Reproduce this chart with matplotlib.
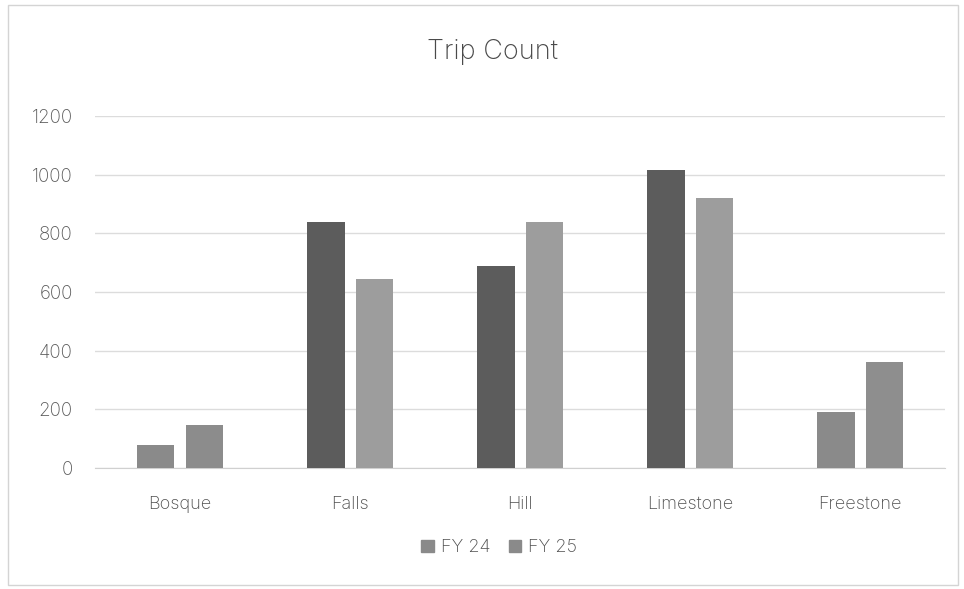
import numpy as np
import matplotlib
matplotlib.use("Agg")
import matplotlib.pyplot as plt
from matplotlib.patches import Rectangle

categories = ["Bosque", "Falls", "Hill", "Limestone", "Freestone"]
fy24 = [80, 840, 690, 1015, 190]
fy25 = [145, 645, 840, 920, 360]
series_names = ["FY 24", "FY 25"]
yticks = [0, 200, 400, 600, 800, 1000, 1200]

# the scan turned the outer groups into one flat grey
fy24_colors = ["#8a8a8a", "#5c5c5c", "#5c5c5c", "#5c5c5c", "#8a8a8a"]
fy25_colors = ["#8c8c8c", "#9d9d9d", "#9d9d9d", "#9d9d9d", "#8e8e8e"]

plt.rcParams['font.family'] = ['Inter', 'DejaVu Sans']

fig = plt.figure(figsize=(9.64, 5.89), dpi=100)
fig.patches.append(Rectangle((0.008, 0.006), 0.986, 0.986, transform=fig.transFigure,
                             fill=False, edgecolor="#d4d4d4", linewidth=1.0))

ax = fig.add_axes([0.0985, 0.2054, 0.882, 0.5976])
x = np.arange(len(categories))
w = 0.22
gap = 0.065
ax.bar(x - (w + gap) / 2, fy24, w, color=fy24_colors, label=series_names[0], zorder=3)
ax.bar(x + (w + gap) / 2, fy25, w, color=fy25_colors, label=series_names[1], zorder=3)

ax.set_xlim(-0.5, len(categories) - 0.5)
ax.set_ylim(0, 1200)
ax.set_yticks(yticks)
ax.set_yticklabels([str(v) for v in yticks], fontsize=13.5, color="#5a5a5a",
                   fontweight="light")
ax.set_xticks(x)
ax.set_xticklabels(categories, fontsize=13, color="#4f4f4f", fontweight="light")
ax.tick_params(axis="x", length=0, pad=20)
ax.tick_params(axis="y", length=0, pad=16)
ax.grid(axis="y", color="#dcdcdc", linewidth=1.0, zorder=0)
for s in ["top", "right", "left"]:
    ax.spines[s].set_visible(False)
ax.spines["bottom"].set_color("#d0d0d0")

fig.text(0.511, 0.912, "Trip Count", ha="center", va="center", fontsize=19.5,
         color="#4a4a4a", fontweight="light")

leg = fig.legend(loc="center", bbox_to_anchor=(0.518, 0.07), ncol=2, frameon=False,
                 fontsize=13, handlelength=0.7, handleheight=0.7, columnspacing=1.0,
                 handletextpad=0.4)
for t in leg.get_texts():
    t.set_color("#4f4f4f")
    t.set_fontweight("light")
for h in leg.legend_handles:
    h.set_color("#8a8a8a")

fig.savefig("out.png", dpi=100, facecolor="white")
